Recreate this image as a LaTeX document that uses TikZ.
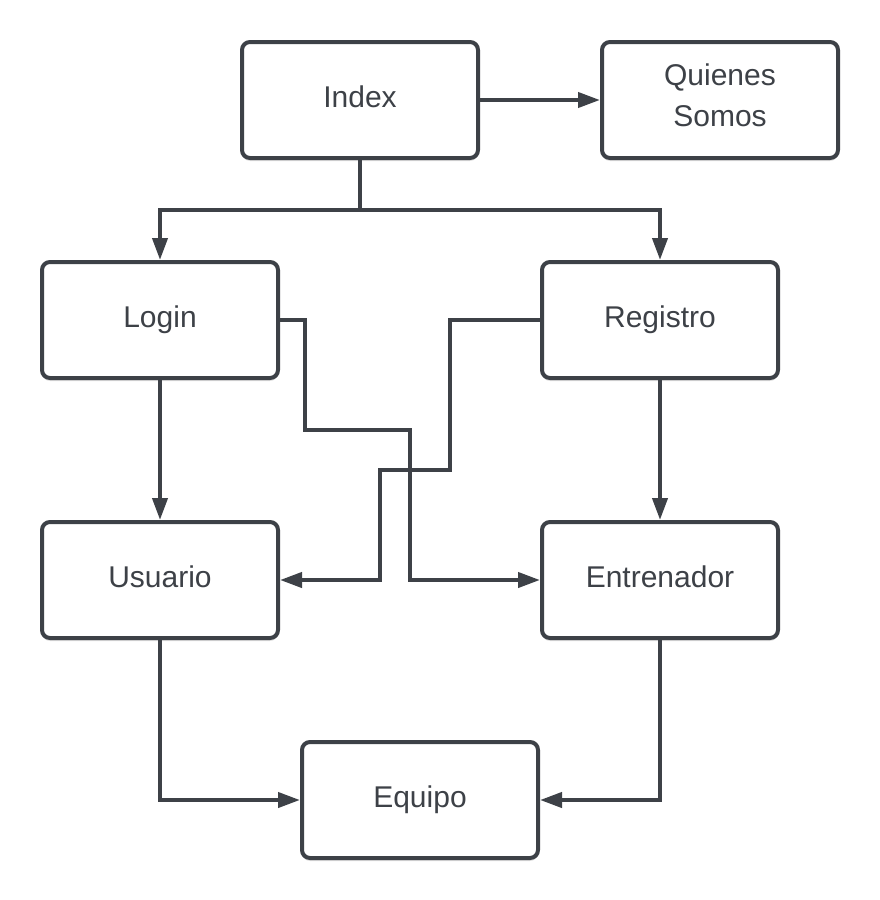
\documentclass[tikz,border=0pt]{standalone}
\usepackage{fontspec}
\setmainfont{Liberation Sans}
\usetikzlibrary{arrows.meta}
\usetikzlibrary{shadows}
\definecolor{lucidgray}{HTML}{3D4147}

\begin{document}
\begin{tikzpicture}[x=0.5pt,y=-0.5pt,>={Triangle[length=11pt,width=7.5pt]},
    pagina/.style={draw=lucidgray,line width=2pt,rounded corners=4pt,fill=white,
        minimum width=118pt,minimum height=58pt,text=lucidgray,align=center,
        font=\fontsize{15pt}{20.5pt}\selectfont,text height=10.7pt,text depth=3.2pt,
        drop shadow={shadow xshift=0pt,shadow yshift=-1.5pt,opacity=0.12,fill=black}},
    enlace/.style={draw=lucidgray,line width=2pt,->}]
                        \useasboundingbox (0,0) rectangle (879,900);
                        \node[pagina] (index) at (360,100) {Index};
                        \node[pagina,text height=31.4pt,text depth=5pt] (quienes) at (720,100) {Quienes\\Somos};
                        \node[pagina] (login) at (160,320) {Login};
                        \node[pagina] (registro) at (660,320) {Registro};
                        \node[pagina] (usuario) at (160,580) {Usuario};
                        \node[pagina] (entrenador) at (660,580) {Entrenador};
                        \node[pagina] (equipo) at (420,800) {Equipo};
                        \draw[enlace] (index.east) -- (quienes.west);
                        \draw[enlace] (index.south) -- ++(0,50) coordinate (rama) -| (login.north);
                        \draw[enlace] (rama) -| (registro.north);
                        \draw[enlace] (login.south) -- (usuario.north);
                        \draw[enlace] (registro.south) -- (entrenador.north);
                        \draw[enlace] (login.east) -| (305,430) -- (410,430) |- (entrenador.west);
                        \draw[enlace] (registro.west) -| (450,470) -- (380,470) |- (usuario.east);
                        \draw[enlace] (usuario.south) |- (equipo.west);
                        \draw[enlace] (entrenador.south) |- (equipo.east);
                    \end{tikzpicture}
\end{document}
